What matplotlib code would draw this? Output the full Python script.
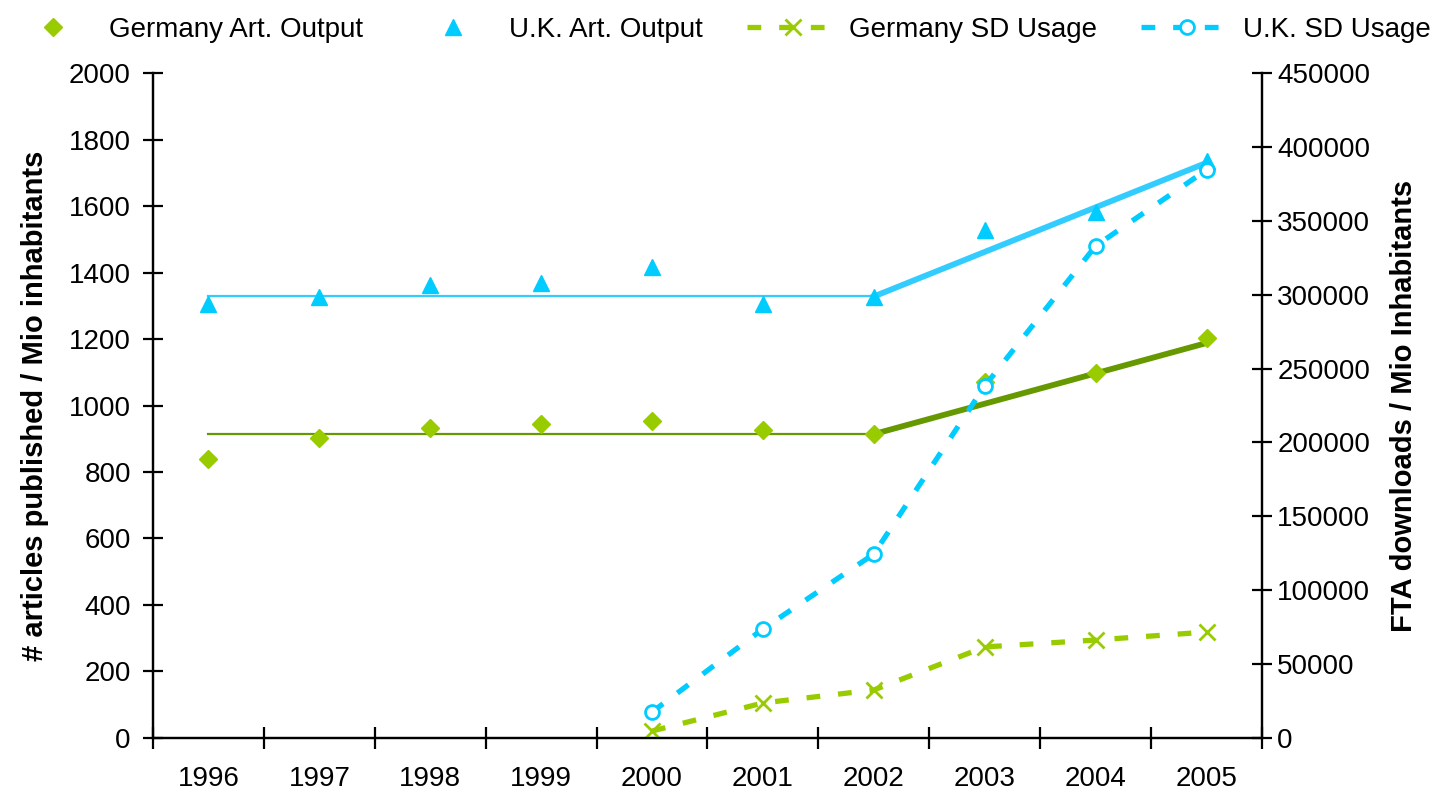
import numpy as np
import matplotlib
matplotlib.use("Agg")
import matplotlib.pyplot as plt
from matplotlib.ticker import FixedLocator, NullFormatter

plt.rcParams['font.family'] = ['Liberation Sans', 'DejaVu Sans']

years = ['1996', '1997', '1998', '1999', '2000', '2001', '2002', '2003', '2004', '2005']
germany_art = [839, 902, 932, 944, 954, 926, 914, 1071, 1098, 1203]
uk_art = [1305, 1326, 1362, 1369, 1417, 1305, 1326, 1528, 1582, 1736]

sd_years = ['2000', '2001', '2002', '2003', '2004', '2005']
germany_sd = [4700, 23700, 32500, 61600, 66300, 71700]
uk_sd = [17600, 73800, 124500, 238200, 333000, 384400]

# trend lines: flat level up to 2002, then linear rise to 2005
germany_flat = 914
germany_trend_end = 1188
uk_flat = 1328
uk_trend_end = 1730

green = '#99cc00'
dark_green = '#669900'
cyan = '#00ccff'
light_cyan = '#33ccff'

x = np.arange(len(years))
x_sd = np.array([years.index(y) for y in sd_years])

fig = plt.figure(figsize=(14.38, 7.92), dpi=100)
ax1 = fig.add_axes([0.1064, 0.0682, 0.7712, 0.8396])
ax2 = ax1.twinx()

# trend lines
ax1.plot([x[0], x[6]], [germany_flat, germany_flat], color=dark_green, lw=1.6, zorder=2)
ax1.plot([x[6], x[9]], [germany_flat, germany_trend_end], color=dark_green, lw=4.2, zorder=2)
ax1.plot([x[0], x[6]], [uk_flat, uk_flat], color=light_cyan, lw=1.6, zorder=2)
ax1.plot([x[6], x[9]], [uk_flat, uk_trend_end], color=light_cyan, lw=4.2, zorder=2)

h1, = ax1.plot(x, germany_art, linestyle='none', marker='D', ms=9.5, color=green,
               mec=green, label='Germany Art. Output', zorder=3)
h2, = ax1.plot(x, uk_art, linestyle='none', marker='^', ms=12, color=cyan,
               mec=cyan, label='U.K. Art. Output', zorder=3)

h3, = ax2.plot(x_sd, germany_sd, color=green, lw=3.8, dashes=(2.6, 3.4),
               marker='x', ms=12, mew=2, mec=green, label='Germany SD Usage')
h4, = ax2.plot(x_sd, uk_sd, color=cyan, lw=3.8, dashes=(2.6, 3.4),
               marker='o', ms=10, mew=2, mec=cyan, mfc='white', label='U.K. SD Usage')

ax1.set_xlim(-0.5, 9.5)
ax1.set_ylim(0, 2000)
ax2.set_ylim(0, 450000)

ax1.set_yticks(np.arange(0, 2001, 200))
ax2.set_yticks(np.arange(0, 450001, 50000))

ax1.xaxis.set_major_locator(FixedLocator(np.arange(-0.5, 9.6, 1)))
ax1.xaxis.set_major_formatter(NullFormatter())
ax1.set_xticks(x, minor=True)
ax1.set_xticklabels(years, minor=True)

for ax in (ax1, ax2):
    ax.spines['top'].set_visible(False)
    for sp in ax.spines.values():
        sp.set_linewidth(1.6)

ax1.tick_params(axis='y', direction='inout', length=14, width=1.6, labelsize=20, pad=9)
ax2.tick_params(axis='y', direction='inout', length=14, width=1.6, labelsize=20, pad=4)
ax1.tick_params(axis='x', which='major', direction='inout', length=16, width=1.6)
ax1.tick_params(axis='x', which='minor', length=0, labelsize=20, pad=20)

label_font = dict(fontsize=21, fontweight='bold')
ax1.set_ylabel('# articles published / Mio inhabitants', labelpad=14, **label_font)
ax2.set_ylabel('FTA downloads / Mio Inhabitants', labelpad=14, **label_font)

fig.legend(handles=[h1, h2, h3, h4], loc='upper center', bbox_to_anchor=(0.5, 1.01),
           ncol=4, frameon=False, fontsize=20, handlelength=3.3, columnspacing=1.6,
           handletextpad=0.36)

fig.savefig('out.png', dpi=100)
